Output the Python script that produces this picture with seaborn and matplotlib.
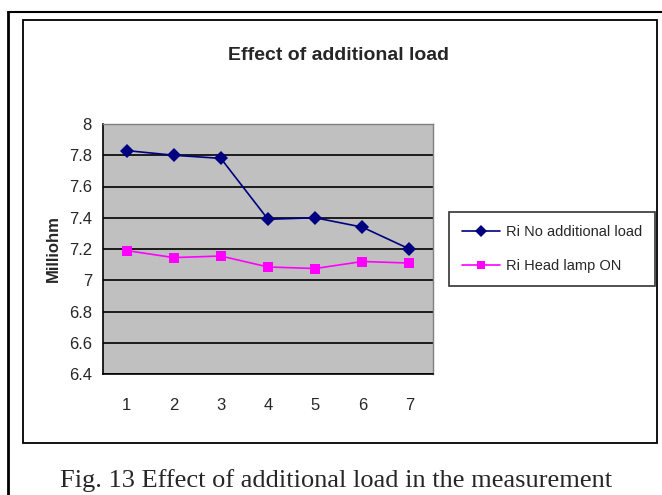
import matplotlib
matplotlib.use("Agg")
import matplotlib.pyplot as plt
from matplotlib.patches import Rectangle
from matplotlib import font_manager
import seaborn as sns
import pandas as pd

categories = [1, 2, 3, 4, 5, 6, 7]
no_load = [7.83, 7.80, 7.78, 7.39, 7.40, 7.34, 7.20]
head_lamp = [7.19, 7.145, 7.155, 7.085, 7.075, 7.12, 7.11]
series_names = ["Ri No additional load", "Ri Head lamp ON"]
y_ticks = [6.4, 6.6, 6.8, 7, 7.2, 7.4, 7.6, 7.8, 8]

names = {f.name for f in font_manager.fontManager.ttflist}
narrow = "Liberation Sans Narrow" if "Liberation Sans Narrow" in names else "Liberation Sans"

sns.set_theme(style="white")
plt.rcParams["font.family"] = [narrow, "DejaVu Sans"]

df = pd.DataFrame({
    "x": categories * 2,
    "y": no_load + head_lamp,
    "series": [series_names[0]] * 7 + [series_names[1]] * 7,
})

fig = plt.figure(figsize=(6.62, 4.95), dpi=100)
ax = fig.add_axes([103 / 662, 1 - 374 / 495, 330 / 662, 250 / 495])
ax.set_facecolor("#C0C0C0")

palette = {series_names[0]: "#000080", series_names[1]: "#FF00FF"}
markers = {series_names[0]: "D", series_names[1]: "s"}
sns.lineplot(data=df, x="x", y="y", hue="series", style="series",
             palette=palette, markers=markers, dashes=False,
             markersize=7, linewidth=1.2, markeredgewidth=0, ax=ax, zorder=3)

ax.set_xlim(0.5, 7.5)
ax.set_ylim(6.4, 8)
ax.set_yticks(y_ticks)
ax.set_yticklabels([("%g" % v) for v in y_ticks], fontsize=12)
ax.set_xticks([i + 0.5 for i in range(0, 8)])
ax.set_xticklabels([])
ax.set_xticks(categories, minor=True)
ax.set_xticklabels([str(c) for c in categories], minor=True, fontsize=12)
ax.tick_params(axis="x", which="minor", length=0, pad=17)
ax.tick_params(axis="x", which="major", length=5, width=1, color="black", direction="out")
ax.tick_params(axis="y", length=5, width=1, color="black", direction="out", pad=3)
ax.yaxis.grid(True, color="black", linewidth=1.2)
ax.set_axisbelow(True)
for s in ["top", "right"]:
    ax.spines[s].set_color("#808080")
    ax.spines[s].set_linewidth(1)
for s in ["left", "bottom"]:
    ax.spines[s].set_color("black")
    ax.spines[s].set_linewidth(1.2)
ax.set_xlabel("")
ax.set_ylabel("Milliohm", fontsize=12, fontweight="bold", labelpad=6)

leg = ax.legend(loc="upper left", bbox_to_anchor=(449 / 662, 1 - 212 / 495),
                bbox_transform=fig.transFigure, fontsize=10.5, frameon=True,
                fancybox=False, edgecolor="black", borderpad=0.9,
                handlelength=2.6, labelspacing=1.35, handletextpad=0.4,
                borderaxespad=0, title=None)
leg.get_frame().set_linewidth(1.2)
for h in leg.legend_handles:
    h.set_markersize(6)

fig.text(338 / 662, 1 - 55 / 495, "Effect of additional load", ha="center", va="center",
         fontsize=14, fontweight="bold")

fig.add_artist(Rectangle((23 / 662, 1 - 443 / 495), (657 - 23) / 662, (443 - 20) / 495,
                         transform=fig.transFigure, fill=False, edgecolor="black", linewidth=1.3))
fig.add_artist(plt.Line2D([8 / 662, 8 / 662], [0, 1 - 12 / 495], transform=fig.transFigure,
                          color="black", linewidth=2))
fig.add_artist(plt.Line2D([8 / 662, 1], [1 - 12 / 495, 1 - 12 / 495], transform=fig.transFigure,
                          color="black", linewidth=1.5))

fig.text(336 / 662, 1 - 481 / 495, "Fig. 13 Effect of additional load in the measurement",
         ha="center", va="center", fontsize=19, family=["Liberation Serif", "DejaVu Serif"])

fig.savefig("out.png", dpi=100)
